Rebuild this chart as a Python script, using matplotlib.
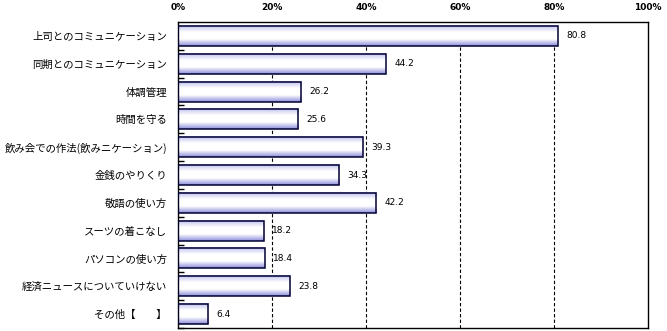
import matplotlib
matplotlib.use("Agg")
import matplotlib.pyplot as plt
import numpy as np
from matplotlib.colors import LinearSegmentedColormap
from matplotlib.ticker import FixedLocator

plt.rcParams['font.family'] = ['Noto Sans CJK JP', 'DejaVu Sans']

# 項目と回答率(%)
items = ['上司とのコミュニケーション', '同期とのコミュニケーション', '体調管理', '時間を守る',
         '飲み会での作法(飲みニケーション)', '金銭のやりくり', '敬語の使い方',
         'スーツの着こなし', 'パソコンの使い方', '経済ニュースについていけない', 'その他【　　】']
rates = [80.8, 44.2, 26.2, 25.6, 39.3, 34.3, 42.2, 18.2, 18.4, 23.8, 6.4]
xticks = [0, 20, 40, 60, 80, 100]
xlabels = ['0%', '20%', '40%', '60%', '80%', '100%']

fig = plt.figure(figsize=(6.67, 3.31), dpi=100)
ax = fig.add_axes([0.267, 0.009, 0.7045, 0.9245])

y = np.arange(len(items))
bh = 0.72
bars = ax.barh(y, rates, height=bh, facecolor='none', edgecolor='#000033', linewidth=1.1, zorder=3)

# bar fill: lavender top, white middle, deeper blue at bottom
cmap = LinearSegmentedColormap.from_list('barfill', ['#bcbcee', '#ffffff', '#ffffff', '#8e8edc'])
grad = np.linspace(0, 1, 64).reshape(-1, 1)
for b in bars:
    x0, y0 = b.get_x(), b.get_y()
    ax.imshow(grad, cmap=cmap, aspect='auto', origin='upper',
              extent=[x0, x0 + b.get_width(), y0 + b.get_height(), y0], zorder=2)

for yi, v in zip(y, rates):
    ax.text(v + 1.8, yi, f'{v:.1f}', va='center', ha='left', fontsize=6.5, family='DejaVu Sans')

ax.set_xlim(0, 100)
ax.set_ylim(len(items) - 0.5, -0.5)
ax.set_xticks(xticks)
ax.set_xticklabels(xlabels, fontsize=6.5, family='DejaVu Sans', fontweight='bold')
ax.xaxis.tick_top()
ax.tick_params(axis='x', length=0, pad=7)
ax.set_yticks(y)
ax.set_yticklabels(items, fontsize=7.5)
ax.tick_params(axis='y', which='major', length=0, pad=8)
ax.yaxis.set_minor_locator(FixedLocator(np.arange(len(items)) + 0.5))
ax.tick_params(axis='y', which='minor', direction='in', length=4, width=1)

for gx in [20, 40, 60, 80]:
    ax.axvline(gx, color='black', linestyle=(0, (3, 2)), linewidth=0.8, zorder=1)

for s in ax.spines.values():
    s.set_color('black')
    s.set_linewidth(1.0)

fig.savefig('out.png', dpi=100)
